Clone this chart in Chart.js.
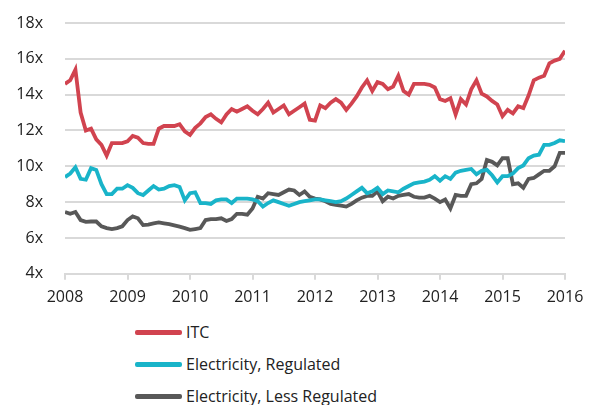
<!DOCTYPE html>
<html>
<head>
<meta charset="utf-8">
<script src="https://cdn.jsdelivr.net/npm/chart.js@4"></script>
<style>
  body { margin: 0; background: #fff; font-family: "Open Sans", sans-serif; }
  #wrap { position: relative; width: 599px; height: 405px; }
  #legend { position: absolute; left: 135px; top: 316px; }
  .item { height: 32px; display: flex; align-items: center; font-size: 16px; color: #222; }
  .swatch { width: 47px; height: 5px; border-radius: 2px; margin-right: 4px; }
</style>
</head>
<body>
<div id="wrap">
  <canvas id="multiplesChart" width="599" height="315"></canvas>
  <div id="legend"></div>
</div>
<script>
// monthly, Jan 2008 .. Jan 2016
const yearLabels = ['2008', '2009', '2010', '2011', '2012', '2013', '2014', '2015', '2016'];
const yTicks = [4, 6, 8, 10, 12, 14, 16, 18];

const itc = [
    14.6, 14.8, 15.4, 13.0, 12.0, 12.1, 11.5, 11.2, 10.6, 11.3, 11.3, 11.3,
    11.4, 11.7, 11.6, 11.3, 11.25, 11.25, 12.1, 12.25, 12.25, 12.25, 12.35, 11.95,
    11.75, 12.15, 12.4, 12.75, 12.9, 12.65, 12.45, 12.9, 13.2, 13.05, 13.2, 13.35,
    13.1, 12.9, 13.2, 13.55, 13.0, 13.2, 13.4, 12.9, 13.1, 13.3, 13.5, 12.6,
    12.55, 13.4, 13.25, 13.55, 13.75, 13.55, 13.15, 13.5, 13.9, 14.4, 14.8, 14.2,
    14.7, 14.6, 14.3, 14.45, 15.05, 14.2, 14.0, 14.6, 14.6, 14.6, 14.55, 14.4,
    13.75, 13.65, 13.8, 12.9, 13.75, 13.45, 14.3, 14.8, 14.05, 13.9, 13.65, 13.45,
    12.8, 13.15, 12.95, 13.35, 13.25, 13.95, 14.8, 14.95, 15.05, 15.75, 15.9, 16.0,
    16.45, 16.35
];
const elecRegulated = [
    9.4, 9.6, 9.95, 9.3, 9.25, 9.9, 9.8, 9.0, 8.45, 8.45, 8.75, 8.75,
    8.95, 8.8, 8.5, 8.4, 8.65, 8.9, 8.7, 8.75, 8.9, 8.95, 8.85, 8.1,
    8.5, 8.55, 7.95, 7.95, 7.9, 8.1, 8.15, 8.15, 7.95, 8.2, 8.2, 8.2,
    8.15, 8.05, 7.75, 7.95, 8.1, 8.0, 7.9, 7.8, 7.9, 8.0, 8.05, 8.1,
    8.15, 8.15, 8.1, 8.05, 8.0, 8.05, 8.2, 8.4, 8.6, 8.8, 8.5, 8.6,
    8.8, 8.45, 8.65, 8.6, 8.55, 8.75, 8.9, 9.05, 9.1, 9.15, 9.25, 9.45,
    9.2, 9.45, 9.3, 9.65, 9.75, 9.8, 9.85, 9.55, 9.75, 9.8, 9.5, 9.1,
    9.45, 9.45, 9.6, 9.9, 10.05, 10.45, 10.6, 10.65, 11.2, 11.2, 11.3, 11.45,
    11.4
];
const elecLessRegulated = [
    7.45, 7.35, 7.45, 7.0, 6.9, 6.92, 6.92, 6.65, 6.55, 6.5, 6.55, 6.65,
    7.0, 7.2, 7.1, 6.72, 6.75, 6.82, 6.87, 6.82, 6.77, 6.7, 6.63, 6.55,
    6.45, 6.5, 6.55, 7.0, 7.05, 7.05, 7.1, 6.95, 7.05, 7.35, 7.35, 7.3,
    7.65, 8.3, 8.2, 8.5, 8.45, 8.4, 8.55, 8.7, 8.65, 8.4, 8.6, 8.3,
    8.2, 8.15, 8.05, 7.9, 7.85, 7.8, 7.75, 7.9, 8.1, 8.25, 8.35, 8.35,
    8.6, 8.05, 8.3, 8.2, 8.35, 8.4, 8.45, 8.3, 8.25, 8.25, 8.35, 8.2,
    8.0, 8.15, 7.65, 8.4, 8.35, 8.35, 9.0, 9.05, 9.3, 10.35, 10.25, 10.05,
    10.45, 10.45, 9.0, 9.05, 8.8, 9.3, 9.35, 9.55, 9.75, 9.75, 10.0, 10.75,
    10.75
];

const seriesNames = ['ITC', 'Electricity, Regulated', 'Electricity, Less Regulated'];
const seriesColors = ['#D1434F', '#19B4C9', '#585858'];
const seriesData = [itc, elecRegulated, elecLessRegulated];

const toPoints = arr => arr.map((v, i) => ({ x: i, y: v }));

const ctx = document.getElementById('multiplesChart').getContext('2d');
new Chart(ctx, {
    type: 'line',
    data: {
        datasets: seriesData.map((arr, k) => ({
            label: seriesNames[k],
            data: toPoints(arr),
            borderColor: seriesColors[k],
            borderWidth: 3.8,
            pointRadius: 0,
            tension: 0,
            fill: false
        }))
    },
    options: {
        responsive: false,
        animation: false,
        layout: { padding: { top: 23, right: 34, left: 0, bottom: 0 } },
        plugins: { legend: { display: false }, tooltip: { enabled: false } },
        scales: {
            x: {
                type: 'linear',
                min: 0,
                max: 96,
                afterBuildTicks: scale => {
                    scale.ticks = yearLabels.map((y, i) => ({ value: i * 12 }));
                },
                ticks: {
                    callback: (v) => yearLabels[Math.round(v / 12)],
                    color: '#222',
                    font: { family: 'Open Sans', size: 16 },
                    padding: 8,
                    maxRotation: 0,
                    autoSkip: false
                },
                grid: { drawOnChartArea: false, color: '#D9D9D9', lineWidth: 2, tickLength: 6 },
                border: { color: '#D9D9D9', width: 2 }
            },
            y: {
                min: 4,
                max: 18,
                afterBuildTicks: scale => {
                    scale.ticks = yTicks.map(v => ({ value: v }));
                },
                afterFit: scale => { scale.width = 65; },
                ticks: {
                    callback: v => v + 'x',
                    color: '#222',
                    font: { family: 'Open Sans', size: 16 },
                    padding: 0
                },
                // invisible tick marks just push the labels away from the plot
                grid: { color: '#D9D9D9', lineWidth: 2, drawTicks: true, tickLength: 22, tickColor: 'rgba(0,0,0,0)' },
                border: { display: false }
            }
        }
    }
});

// legend as a vertical list under the plot
const legend = document.getElementById('legend');
seriesNames.forEach((name, k) => {
    const row = document.createElement('div');
    row.className = 'item';
    const sw = document.createElement('span');
    sw.className = 'swatch';
    sw.style.background = seriesColors[k];
    row.appendChild(sw);
    row.appendChild(document.createTextNode(name));
    legend.appendChild(row);
});
</script>
</body>
</html>
